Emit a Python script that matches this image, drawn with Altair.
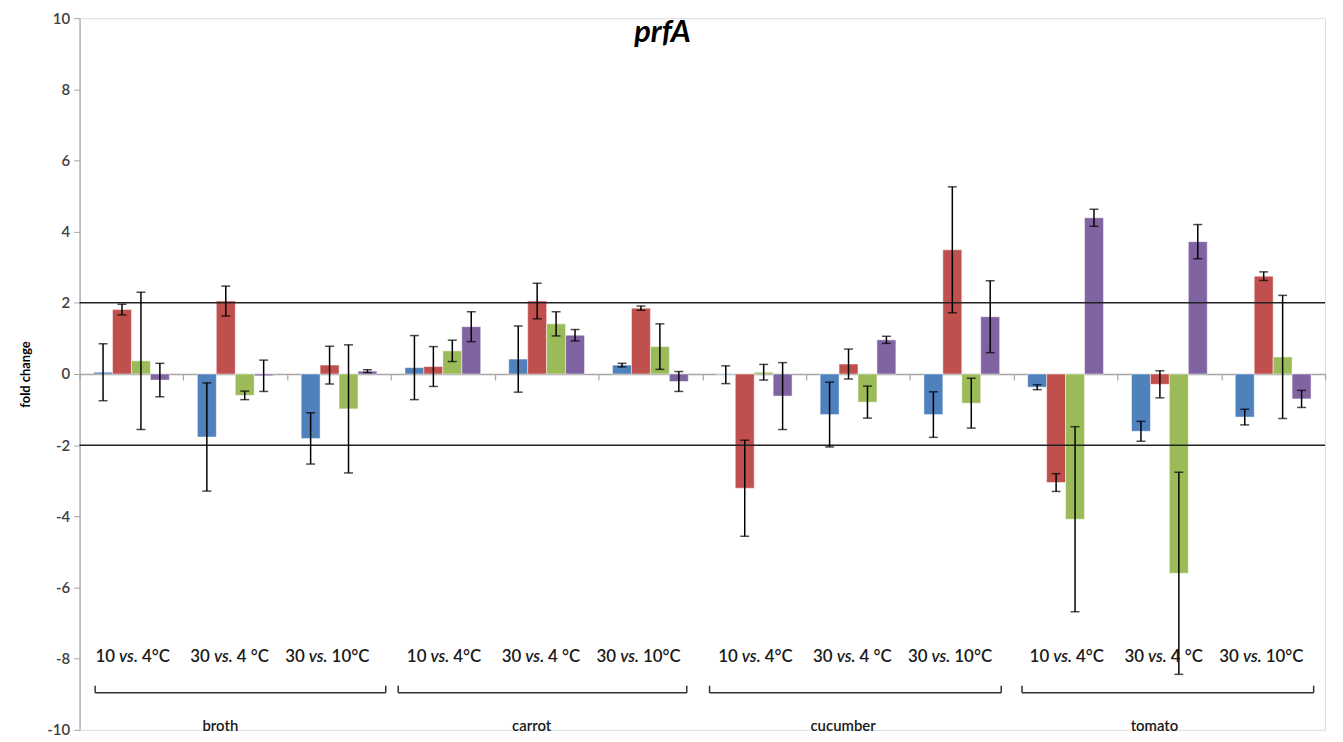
import altair as alt
import pandas as pd

# ---------------- data ----------------
matrices = ["broth", "carrot", "cucumber", "tomato"]
cmp_prefix = ["10", "30", "30"]
cmp_mid = ["vs.", "vs.", "vs."]
cmp_suffix = ["4°C", "4 °C", "10°C"]
series = ["Series 1", "Series 2", "Series 3", "Series 4"]
colors = ["#4F81BD", "#C0504D", "#9BBB59", "#8064A2"]

# fold change values, one row per (matrix, comparison), one column per series
values = [
    [0.05, 1.81, 0.37, -0.17],
    [-1.77, 2.05, -0.60, -0.05],
    [-1.81, 0.25, -0.98, 0.08],
    [0.18, 0.21, 0.65, 1.33],
    [0.42, 2.05, 1.41, 1.09],
    [0.25, 1.85, 0.77, -0.21],
    [-0.02, -3.21, 0.05, -0.62],
    [-1.14, 0.28, -0.79, 0.96],
    [-1.14, 3.49, -0.82, 1.61],
    [-0.37, -3.05, -4.08, 4.39],
    [-1.61, -0.29, -5.60, 3.72],
    [-1.21, 2.75, 0.48, -0.70],
]
errors = [
    [0.80, 0.15, 1.93, 0.47],
    [1.52, 0.42, 0.12, 0.44],
    [0.72, 0.53, 1.80, 0.04],
    [0.90, 0.56, 0.30, 0.42],
    [0.93, 0.50, 0.34, 0.16],
    [0.05, 0.06, 0.64, 0.28],
    [0.25, 1.35, 0.22, 0.94],
    [0.91, 0.42, 0.45, 0.10],
    [0.64, 1.77, 0.70, 1.01],
    [0.07, 0.25, 2.60, 0.24],
    [0.28, 0.38, 2.84, 0.48],
    [0.22, 0.12, 1.73, 0.24],
]
y_ticks = [-10, -8, -6, -4, -2, 0, 2, 4, 6, 8, 10]
thresholds = [2, -2]
bracket_start = [0.15, 3.07, 6.07, 9.08]
bracket_end = [2.95, 5.85, 8.88, 11.89]

# ---------------- tables ----------------
keys = []
rows = []
lab_rows = []
for mi, m in enumerate(matrices):
    for ci in range(3):
        g = mi * 3 + ci
        key = f"{m}|{ci}"
        keys.append(key)
        lab_rows.append(dict(key=key, cmp=ci, prefix=cmp_prefix[ci], mid=cmp_mid[ci],
                             suffix=cmp_suffix[ci], matrix=m, middle=(ci == 1)))
        for si, s in enumerate(series):
            v = values[g][si]
            e = errors[g][si]
            rows.append(dict(key=key, series=s, value=v, lo=v - e, hi=v + e))
df = pd.DataFrame(rows)
labels = pd.DataFrame(lab_rows)
brackets = pd.DataFrame(dict(matrix=matrices, start=bracket_start, end=bracket_end))
thr = pd.DataFrame(dict(y=thresholds))

FONT = "Lato"
W, H = 1253, 716

x_enc = alt.X("key:N", sort=keys, title=None,
              scale=alt.Scale(paddingInner=0, paddingOuter=0))
x_axis_enc = alt.X("key:N", sort=keys, title=None,
                   scale=alt.Scale(paddingInner=0, paddingOuter=0),
                   axis=alt.Axis(orient="bottom", offset=-H / 2, labels=False,
                                 domainColor="#A6A6A6", domainWidth=1.5,
                                 tickColor="#A6A6A6", tickWidth=1.2, tickSize=6,
                                 tickBand="extent", grid=False))
xo_enc = alt.XOffset("series:N", sort=series,
                     scale=alt.Scale(paddingOuter=0.74, paddingInner=0))
y_scale = alt.Scale(domain=[-10, 10], nice=False)

bars = alt.Chart(df).mark_bar(stroke="white", strokeWidth=0.8, strokeOpacity=0.6).encode(
    x=x_axis_enc,
    xOffset=xo_enc,
    y=alt.Y("value:Q", scale=y_scale,
            axis=alt.Axis(values=y_ticks, title="fold change", titleFontWeight="bold",
                          titleFontSize=13, titleFont=FONT, titleColor="black",
                          labelFont=FONT, labelFontSize=15, labelColor="#404040",
                          labelFontWeight=600,
                          labelExpr="datum.value < 0 ? '-' + abs(datum.value) : '' + datum.value",
                          domainColor="#A6A6A6", domainWidth=1.2, tickColor="#A6A6A6",
                          tickSize=6, labelPadding=4, titlePadding=14, grid=False)),
    color=alt.Color("series:N", scale=alt.Scale(domain=series, range=colors), legend=None),
)

err = alt.Chart(df).mark_rule(color="black", strokeWidth=1.5).encode(
    x=x_enc, xOffset=xo_enc, y=alt.Y("lo:Q", scale=y_scale), y2="hi:Q")
cap_lo = alt.Chart(df).mark_tick(color="black", thickness=1.5, size=9, orient="horizontal").encode(
    x=x_enc, xOffset=xo_enc, y=alt.Y("lo:Q", scale=y_scale))
cap_hi = alt.Chart(df).mark_tick(color="black", thickness=1.5, size=9, orient="horizontal").encode(
    x=x_enc, xOffset=xo_enc, y=alt.Y("hi:Q", scale=y_scale))

hlines = alt.Chart(thr).mark_rule(color="#222222", strokeWidth=1.5).encode(
    y=alt.Y("y:Q", scale=y_scale))

vs_dx = [-3, -12, -21]
text_layers = []
for ci in range(3):
    base = alt.Chart(labels).transform_filter(alt.datum.cmp == ci)
    common = dict(font=FONT, fontSize=17, fontWeight=600, color="#1a1a1a", baseline="middle")
    text_layers.append(base.mark_text(align="right", dx=vs_dx[ci] - 13.5, **common).encode(
        x=x_enc, y=alt.datum(-7.96), text="prefix:N"))
    text_layers.append(base.mark_text(align="center", dx=vs_dx[ci], fontStyle="italic", **common).encode(
        x=x_enc, y=alt.datum(-7.96), text="mid:N"))
    text_layers.append(base.mark_text(align="left", dx=vs_dx[ci] + 13.5, **common).encode(
        x=x_enc, y=alt.datum(-7.96), text="suffix:N"))

names = alt.Chart(labels).transform_filter(alt.datum.middle).mark_text(
    font=FONT, fontSize=15, fontWeight=600, color="#1a1a1a", baseline="middle", dx=-15).encode(
    x=x_enc, y=alt.datum(-9.9), text="matrix:N")

inner = alt.layer(bars, hlines, err, cap_lo, cap_hi, *text_layers, names)

bx = alt.Scale(domain=[0, 12], nice=False, zero=False)
br_h = alt.Chart(brackets).mark_rule(color="#333333", strokeWidth=1.5).encode(
    x=alt.X("start:Q", scale=bx, axis=None), x2="end:Q", y=alt.datum(-8.96))
br_l = alt.Chart(brackets).mark_rule(color="#333333", strokeWidth=1.5).encode(
    x=alt.X("start:Q", scale=bx, axis=None), y=alt.datum(-8.96), y2=alt.datum(-8.76))
br_r = alt.Chart(brackets).mark_rule(color="#333333", strokeWidth=1.5).encode(
    x=alt.X("end:Q", scale=bx, axis=None), y=alt.datum(-8.96), y2=alt.datum(-8.76))

chart = alt.layer(inner, br_h, br_l, br_r).resolve_scale(x="independent").properties(
    width=W, height=H,
    autosize=alt.AutoSizeParams(type="none"),
    padding={"left": 72, "top": 8, "right": 10, "bottom": 10},
    title=alt.TitleParams(text="prfA", font=FONT, fontSize=31, fontStyle="italic",
                          fontWeight="bold", anchor="middle", dx=-40, offset=-38,
                          color="black"),
).configure_view(stroke=None).configure(background="white")

chart.save("out.html", embed_options={"renderer": "svg", "actions": False})
